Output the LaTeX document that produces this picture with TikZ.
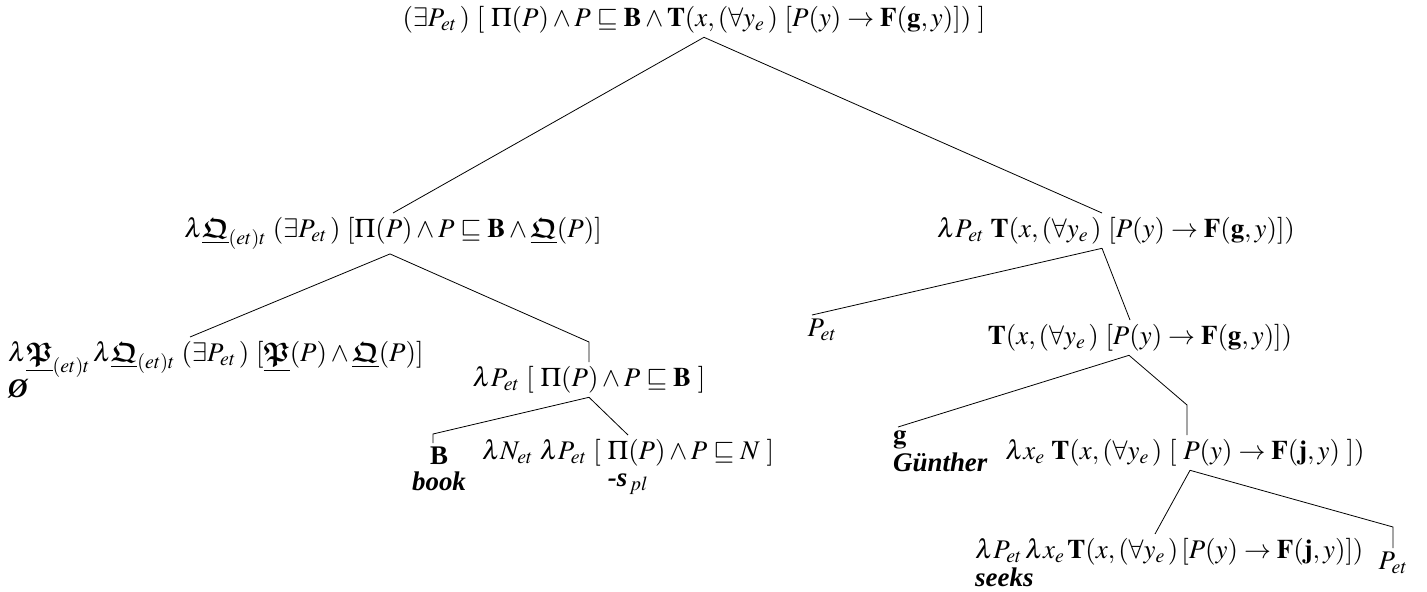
\documentclass[tikz,border=0pt]{standalone}
\usepackage{amsmath}
\usepackage{mathptmx}
\usepackage{amsfonts}
\usepackage[no-math]{fontspec}
\setmainfont{Liberation Serif}
\usetikzlibrary{positioning,calc}
\newcommand{\gP}{\underline{\boldsymbol{\mathfrak{P}}}}
\newcommand{\gQ}{\underline{\boldsymbol{\mathfrak{Q}}}}

\begin{document}
\begin{tikzpicture}[
  x=1bp,y=-1bp,
  font=\fontsize{27}{31}\selectfont,
  lbl/.style={anchor=north,inner xsep=0pt,inner ysep=4bp,align=center},
  lleft/.style={lbl,anchor=north west,align=left},
  edge/.style={black,line width=0.8bp},
]
  \useasboundingbox (0,0) rectangle (1427,592);

  \node[lbl] (root) at (694,2)
    {$(\exists P_{et}\,)\ [\ \Pi(P) \wedge P \sqsubseteq \mathbf{B} \wedge \mathbf{T}(x,(\forall y_{e}\,)\ [P(y) \rightarrow \mathbf{F}(\mathbf{g},y)])\ ]$};

  \node[lbl] (lq) at (393,213)
    {$\lambda\gQ_{(et)t}\ (\exists P_{et}\,)\ [\Pi(P) \wedge P \sqsubseteq \mathbf{B} \wedge \gQ(P)]$};
  \node[lbl] (rp) at (1116,213)
    {$\lambda P_{et}\ \mathbf{T}(x,(\forall y_{e}\,)\ [P(y) \rightarrow \mathbf{F}(\mathbf{g},y)])$};

  \node[lleft] (lpq) at (8,337)
    {$\lambda\gP_{(et)t}\,\lambda\gQ_{(et)t}\ (\exists P_{et}\,)\ [\gP(P) \wedge \gQ(P)]$\\
     \textbf{\textit{Ø}}};
  \node[lbl] (lb) at (589,362)
    {$\lambda P_{et}\ [\ \Pi(P) \wedge P \sqsubseteq \mathbf{B}\ ]$};

  \node[lbl] (book) at (439,443) {\textbf{B}\\[-5bp] \textbf{\textit{book}}};
  \node[lbl] (sfx) at (628,435)
    {$\lambda N_{et}\ \lambda P_{et}\ [\ \Pi(P) \wedge P \sqsubseteq N\ ]$\\[-4bp]
     \textbf{\textit{-s}}$_{\,pl}$};

  \node[lbl] (pet) at (822,315) {$P_{et}$};
  \node[lbl] (tx) at (1140,320)
    {$\mathbf{T}(x,(\forall y_{e}\,)\ [P(y) \rightarrow \mathbf{F}(\mathbf{g},y)])$};

  \node[lleft] (gun) at (893,427) {$\mathbf{g}$\\[-3bp] \textbf{\textit{Günther}}};
  \node[lbl] (lx) at (1185,435)
    {$\lambda x_{e}\ \mathbf{T}(x,(\forall y_{e}\,)\ [\ P(y) \rightarrow \mathbf{F}(\mathbf{j},y)\ ])$};

  \node[lleft] (seeks) at (975,534)
    {$\lambda P_{et}\,\lambda x_{e}\,\mathbf{T}(x,(\forall y_{e}\,)\,[P(y) \rightarrow \mathbf{F}(\mathbf{j},y)])$\\[-3bp]
     \textbf{\textit{seeks}}};
  \node[lbl] (pet2) at (1393,548) {$P_{et}$};

  \draw[edge] ([xshift=10bp]root.south) -- (lq.north);
  \draw[edge] ([xshift=10bp]root.south) -- ([xshift=-14bp]rp.north);
  \draw[edge] ([xshift=-3bp]lq.south) -- ([xshift=182bp]lpq.north west);
  \draw[edge] ([xshift=-3bp]lq.south) -- ([yshift=20bp]lb.north) -- (lb.north);
  \draw[edge] (lb.south) -- ([xshift=-6bp,yshift=9bp]book.north) -- ([xshift=-6bp]book.north);
  \draw[edge] (lb.south) -- (sfx.north);
  \draw[edge] ([xshift=-14bp]rp.south) -- ([xshift=-10bp]pet.north);
  \draw[edge] ([xshift=-14bp]rp.south) -- ([xshift=-10bp]tx.north);
  \draw[edge] ([xshift=-11bp]tx.south) -- ([xshift=5bp]gun.north west);
  \draw[edge] ([xshift=-11bp]tx.south) -- ([yshift=30bp,xshift=2bp]lx.north) -- ([xshift=2bp]lx.north);
  \draw[edge] ([xshift=5bp]lx.south) -- ([xshift=180bp]seeks.north west);
  \draw[edge] ([xshift=5bp]lx.south) -- ([yshift=21bp]pet2.north) -- (pet2.north);
\end{tikzpicture}
\end{document}
